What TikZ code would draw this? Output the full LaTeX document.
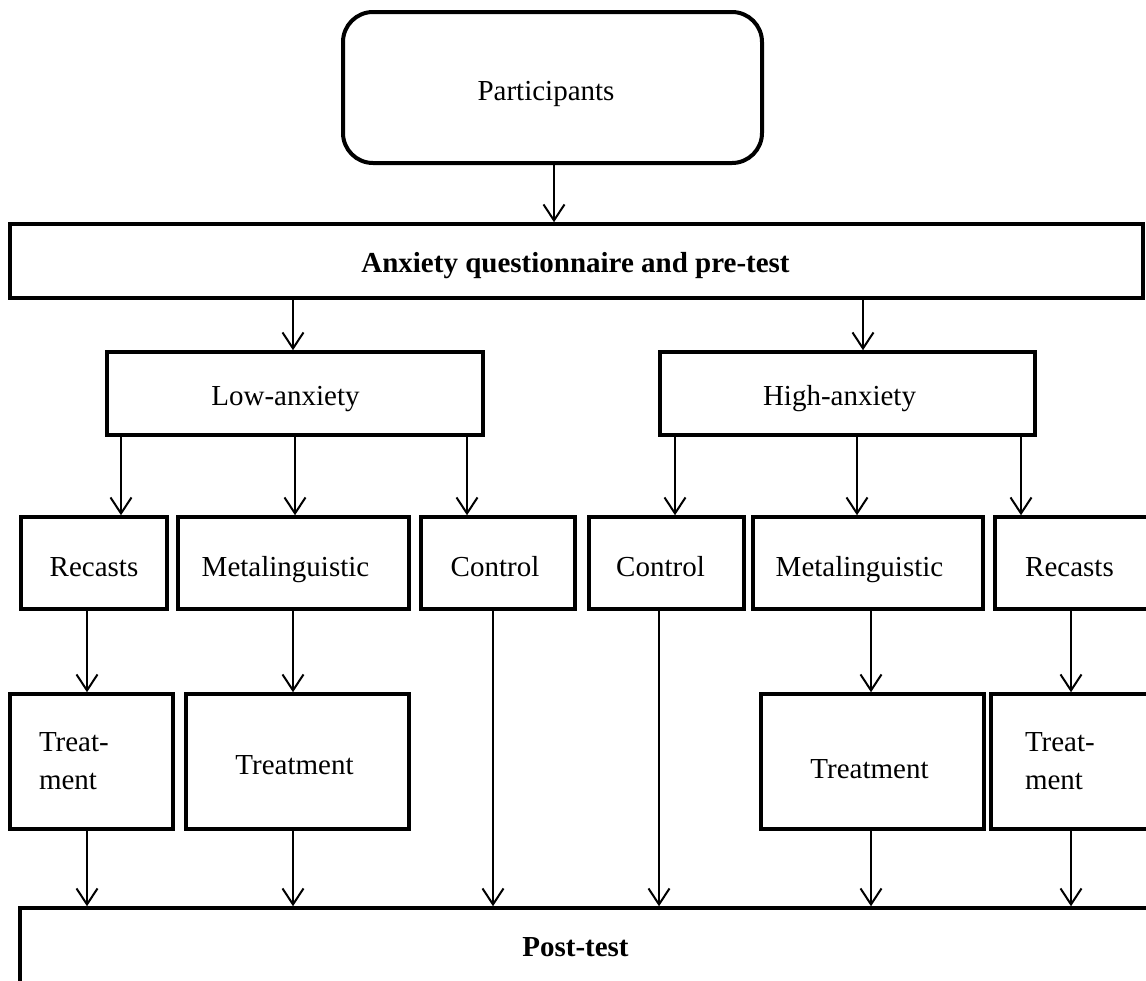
\documentclass[tikz,border=0pt]{standalone}
\usepackage{fontspec}
\setmainfont{Liberation Serif}
\usetikzlibrary{arrows.meta}
\begin{document}
\begin{tikzpicture}[x=1pt,y=-1pt,
  box/.style={draw, line width=3.5pt, inner sep=0pt, anchor=center,
    font=\fontsize{29}{34}\selectfont},
  twoline/.style={align=left, font=\fontsize{29}{38}\selectfont},
  lbl/.style={inner sep=0pt, text height=20pt, text depth=6pt, font=\fontsize{29}{34}\selectfont},
  txt/.style n args={3}{label={[lbl, xshift=#1, yshift=#2]center:{#3}}},
  arr/.style={line width=2pt, -{Straight Barb[length=16pt,width=21pt]}}]
\clip (0,0) rectangle (1146,980);
\fill[white] (0,0) rectangle (1146,980);
% top
\node[box, line width=4pt, rounded corners=30pt, minimum width=419pt, minimum height=151pt,
  txt={-6.5pt}{-5.5pt}{Participants}] (part) at (552.5,87.5) {};
\node[box, minimum width=1133pt, minimum height=74pt,
  txt={-1pt}{-4pt}{\textbf{Anxiety questionnaire and pre-test}}] (anx) at (576.5,261) {};
% groups
\node[box, minimum width=376pt, minimum height=83pt,
  txt={-9.5pt}{-4.5pt}{Low-anxiety}] (low) at (295,393.5) {};
\node[box, minimum width=375pt, minimum height=83pt,
  txt={-8pt}{-4.5pt}{High-anxiety}] (high) at (847.5,393.5) {};
% row 3
\node[box, minimum width=146pt, minimum height=92pt,
  txt={0pt}{-6pt}{Recasts}] (recL) at (94,563) {};
\node[box, minimum width=231pt, minimum height=92pt,
  txt={-8pt}{-6pt}{Metalinguistic}] (metL) at (293.5,563) {};
\node[box, minimum width=154pt, minimum height=92pt,
  txt={-3pt}{-6pt}{Control}] (conL) at (498,563) {};
\node[box, minimum width=155pt, minimum height=92pt,
  txt={-6pt}{-6pt}{Control}] (conR) at (666.5,563) {};
\node[box, minimum width=230pt, minimum height=92pt,
  txt={-8.5pt}{-6pt}{Metalinguistic}] (metR) at (868,563) {};
\node[box, minimum width=170pt, minimum height=92pt,
  txt={-10.5pt}{-6pt}{Recasts}] (recR) at (1080,563) {};
% row 4
\node[box, twoline, inner xsep=29pt, text width=105pt, minimum width=163pt, minimum height=135pt] (trL) at (91.5,761.5) {Treat-\\ment};
\node[box, minimum width=223pt, minimum height=135pt,
  txt={-3pt}{-5.5pt}{Treatment}] (tmL) at (297.5,761.5) {};
\node[box, minimum width=223pt, minimum height=135pt,
  txt={-3pt}{-9.5pt}{Treatment}] (tmR) at (872.5,761.5) {};
\node[box, twoline, inner xsep=34pt, text width=106pt, minimum width=174pt, minimum height=135pt] (trR) at (1078,761.5) {Treat-\\ment};
% post-test
\node[box, minimum width=1146pt, minimum height=92pt,
  txt={-17.5pt}{5pt}{\textbf{Post-test}}] (post) at (593,954) {};
% connectors
\draw[arr] (554,0 |- part.south) -- (554,0 |- anx.north);
\draw[arr] (293,0 |- anx.south) -- (293,0 |- low.north);
\draw[arr] (863,0 |- anx.south) -- (863,0 |- high.north);
\draw[arr] (121,0 |- low.south) -- (121,0 |- recL.north);
\draw[arr] (295,0 |- low.south) -- (295,0 |- metL.north);
\draw[arr] (467,0 |- low.south) -- (467,0 |- conL.north);
\draw[arr] (675,0 |- high.south) -- (675,0 |- conR.north);
\draw[arr] (857,0 |- high.south) -- (857,0 |- metR.north);
\draw[arr] (1021,0 |- high.south) -- (1021,0 |- recR.north);
\draw[arr] (87,0 |- recL.south) -- (87,0 |- trL.north);
\draw[arr] (293,0 |- metL.south) -- (293,0 |- tmL.north);
\draw[arr] (493,0 |- conL.south) -- (493,0 |- post.north);
\draw[arr] (659,0 |- conR.south) -- (659,0 |- post.north);
\draw[arr] (871,0 |- metR.south) -- (871,0 |- tmR.north);
\draw[arr] (1071,0 |- recR.south) -- (1071,0 |- trR.north);
\draw[arr] (87,0 |- trL.south) -- (87,0 |- post.north);
\draw[arr] (293,0 |- tmL.south) -- (293,0 |- post.north);
\draw[arr] (871,0 |- tmR.south) -- (871,0 |- post.north);
\draw[arr] (1071,0 |- trR.south) -- (1071,0 |- post.north);
\end{tikzpicture}
\end{document}
